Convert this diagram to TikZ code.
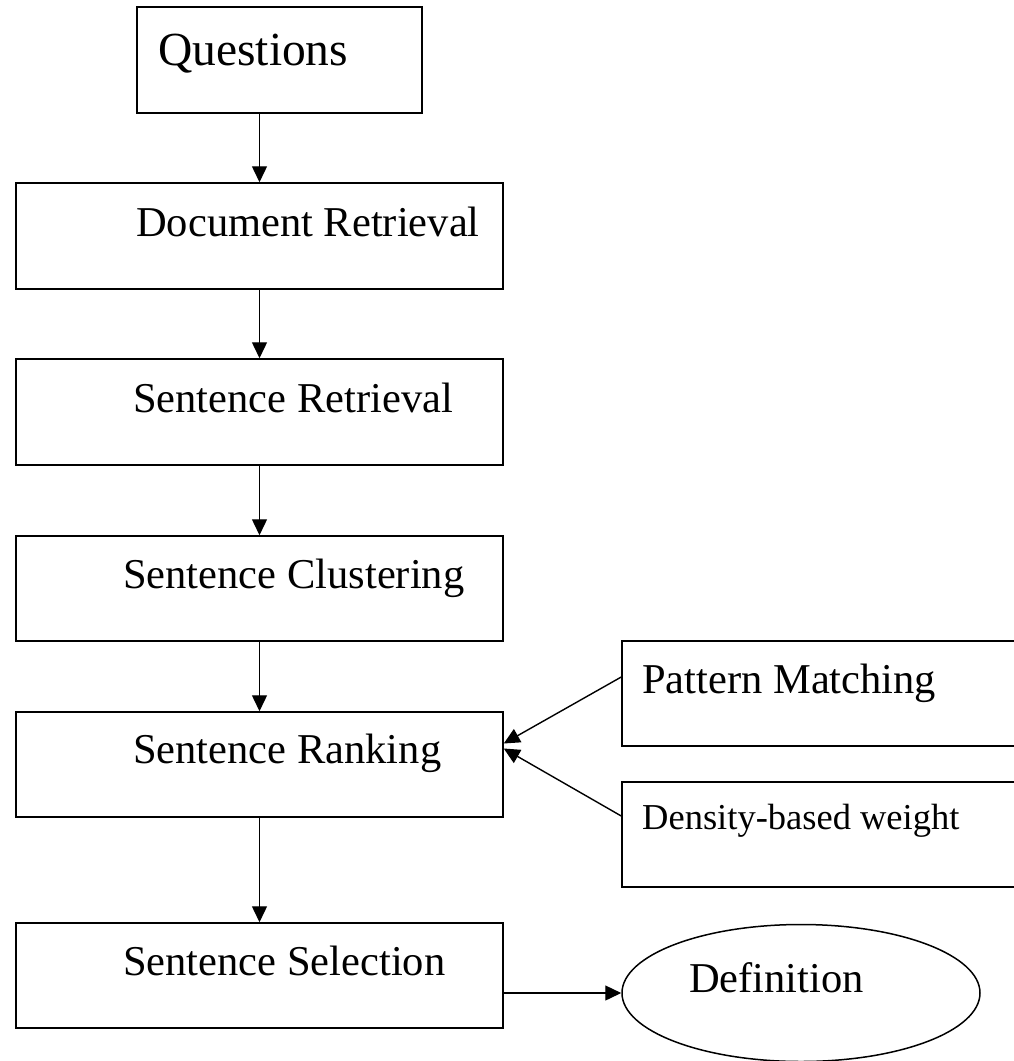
\documentclass[tikz,border=0pt]{standalone}
\usepackage{fontspec}
\setmainfont{Liberation Serif}
\usetikzlibrary{arrows.meta,shapes.geometric}
\begin{document}
\begin{tikzpicture}[x=1pt,y=-1pt,
  box/.style={draw,line width=1.5pt,rectangle,inner sep=0pt},
  lbl/.style={anchor=base west,inner sep=0pt,font=\fontsize{42.5}{50}\selectfont},
  conn/.style={line width=1.4pt,-{Triangle[length=16pt,width=15pt]}}]
\useasboundingbox (0,0) rectangle (1014,1061);
\clip (0,0) rectangle (1014,1061);
% boxes
\node[box,minimum width=285pt,minimum height=106pt] (q) at (279.5,60) {};
\node[box,minimum width=487pt,minimum height=106pt] (dr) at (259.5,236) {};
\node[box,minimum width=487pt,minimum height=106pt] (sr) at (259.5,412) {};
\node[box,minimum width=487pt,minimum height=105pt] (sc) at (259.5,588.5) {};
\node[box,minimum width=487pt,minimum height=105pt] (rk) at (259.5,764.5) {};
\node[box,minimum width=487pt,minimum height=105pt] (sel) at (259.5,975.5) {};
\node[box,minimum width=420pt,minimum height=105pt] (pm) at (832,693.5) {};
\node[box,minimum width=420pt,minimum height=105pt] (dw) at (832,834.5) {};
\node[draw,line width=1.5pt,ellipse,inner sep=0pt,minimum width=358pt,minimum height=137pt] (def) at (801,993) {};
% labels
\node[lbl,font=\fontsize{47.5}{56}\selectfont] (tq) at (158,65) {Questions};
\node[lbl] (tdr) at (136,236) {Document Retrieval};
\node[lbl] (tsr) at (133,412) {Sentence Retrieval};
\node[lbl] (tsc) at (123,588) {Sentence Clustering};
\node[lbl] (trk) at (133,763) {Sentence Ranking};
\node[lbl] (tsel) at (123,975) {Sentence Selection};
\node[lbl] (tpm) at (642,693) {Pattern Matching};
\node[lbl,font=\fontsize{36.5}{44}\selectfont] (tdw) at (642,829) {Density-based weight};
\node[lbl] (tdef) at (689,992) {Definition};
% connectors
\draw[conn] (q.south -| dr.north) -- (dr.north);
\draw[conn] (dr.south) -- (sr.north);
\draw[conn] (sr.south) -- (sc.north);
\draw[conn] (sc.south) -- (rk.north);
\draw[conn] (rk.south) -- (sel.north);
\draw[conn] ([yshift=16.5pt]pm.west) -- ([yshift=21pt]rk.east);
\draw[conn] ([yshift=18.5pt]dw.west) -- ([yshift=16pt]rk.east);
\draw[conn] (sel.east |- def.west) -- (def.west);
\end{tikzpicture}
\end{document}
